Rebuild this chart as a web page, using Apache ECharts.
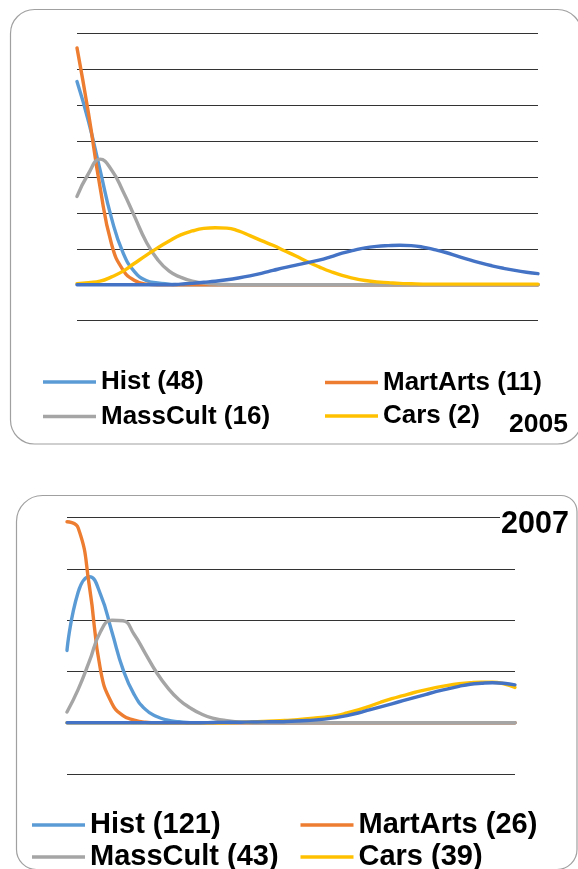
<!DOCTYPE html>
<html>
<head>
<meta charset="utf-8">
<script src="https://cdn.jsdelivr.net/npm/echarts@6/dist/echarts.min.js"></script>
<style>
	html, body { margin: 0; padding: 0; background: #fff; }
	#chart { width: 578px; height: 869px; }
</style>
</head>
<body>
<div id="chart"></div>
<script>
	// x positions (hidden axis), 41 sample points across each plot
	var steps = ['0', '1', '2', '3', '4', '5', '6', '7', '8', '9', '10', '11', '12', '13', '14', '15', '16', '17', '18', '19', '20',
		'21', '22', '23', '24', '25', '26', '27', '28', '29', '30', '31', '32', '33', '34', '35', '36', '37', '38', '39', '40'];

	// 2005 panel
	var names05 = ['Hist (48)', 'MartArts (11)', 'MassCult (16)', 'Cars (2)'];
	var hist05 = [5.66, 4.55, 3.2, 1.85, 0.89, 0.36, 0.12, 0.05, 0.02, 0, 0, 0, 0, 0, 0, 0, 0, 0, 0, 0, 0,
		0, 0, 0, 0, 0, 0, 0, 0, 0, 0, 0, 0, 0, 0, 0, 0, 0, 0, 0, 0];
	var mart05 = [6.6, 4.77, 2.72, 1.13, 0.41, 0.12, 0.02, 0, 0, 0, 0, 0, 0, 0, 0, 0, 0, 0, 0, 0, 0,
		0, 0, 0, 0, 0, 0, 0, 0, 0, 0, 0, 0, 0, 0, 0, 0, 0, 0, 0, 0];
	var mass05 = [2.46, 3.1, 3.5, 3.2, 2.6, 1.9, 1.2, 0.7, 0.38, 0.21, 0.1, 0.05, 0.02, 0.01, 0, 0, 0, 0, 0, 0, 0,
		0, 0, 0, 0, 0, 0, 0, 0, 0, 0, 0, 0, 0, 0, 0, 0, 0, 0, 0, 0];
	var cars05 = [0.03, 0.06, 0.1, 0.22, 0.38, 0.6, 0.82, 1.03, 1.22, 1.39, 1.5, 1.57, 1.59, 1.58, 1.5, 1.37, 1.23, 1.1, 0.95, 0.8, 0.64,
		0.5, 0.37, 0.26, 0.18, 0.12, 0.08, 0.06, 0.04, 0.03, 0.02, 0.02, 0.02, 0.02, 0.02, 0.02, 0.02, 0.02, 0.02, 0.02, 0.02];
	var extra05 = [0, 0, 0, 0, 0, 0, 0, 0, 0, 0.02, 0.04, 0.07, 0.1, 0.14, 0.19, 0.25, 0.32, 0.4, 0.48, 0.55, 0.62,
		0.69, 0.78, 0.88, 0.96, 1.03, 1.07, 1.09, 1.1, 1.09, 1.05, 0.98, 0.9, 0.8, 0.7, 0.61, 0.53, 0.46, 0.4, 0.35, 0.31];

	// 2007 panel
	var names07 = ['Hist (121)', 'MartArts (26)', 'MassCult (43)', 'Cars (39)'];
	var hist07 = [1.41, 2.55, 2.85, 2.5, 1.78, 1.04, 0.55, 0.26, 0.12, 0.05, 0.02, 0, 0, 0, 0, 0, 0, 0, 0, 0, 0,
		0, 0, 0, 0, 0, 0, 0, 0, 0, 0, 0, 0, 0, 0, 0, 0, 0, 0, 0, 0];
	var mart07 = [3.92, 3.8, 2.66, 1.02, 0.38, 0.14, 0.05, 0.01, 0, 0, 0, 0, 0, 0, 0, 0, 0, 0, 0, 0, 0,
		0, 0, 0, 0, 0, 0, 0, 0, 0, 0, 0, 0, 0, 0, 0, 0, 0, 0, 0, 0];
	var mass07 = [0.21, 0.65, 1.2, 1.78, 2.0, 1.99, 1.72, 1.35, 0.98, 0.68, 0.45, 0.29, 0.17, 0.09, 0.05, 0.02, 0.01, 0, 0, 0, 0,
		0, 0, 0, 0, 0, 0, 0, 0, 0, 0, 0, 0, 0, 0, 0, 0, 0, 0, 0, 0];
	var cars07 = [0, 0, 0, 0, 0, 0, 0, 0, 0, 0, 0, 0, 0, 0, 0, 0.005, 0.01, 0.02, 0.03, 0.04, 0.05,
		0.07, 0.09, 0.11, 0.14, 0.19, 0.25, 0.32, 0.4, 0.47, 0.53, 0.59, 0.64, 0.69, 0.73, 0.76, 0.78, 0.79, 0.79, 0.76, 0.69];
	var extra07 = [0, 0, 0, 0, 0, 0, 0, 0, 0, 0, 0, 0, 0, 0.005, 0.007, 0.01, 0.012, 0.015, 0.018, 0.02, 0.03,
		0.04, 0.05, 0.07, 0.1, 0.14, 0.19, 0.25, 0.31, 0.37, 0.43, 0.49, 0.55, 0.61, 0.66, 0.71, 0.75, 0.77, 0.78, 0.77, 0.74];

	var colors = ['#5B9BD5', '#ED7D31', '#A5A5A5', '#FFC000', '#4472C4'];
	var font = '"Liberation Sans", Arial, sans-serif';

	function line(name, data, color, idx) {
		return {
			name: name,
			type: 'line',
			xAxisIndex: idx,
			yAxisIndex: idx,
			data: data,
			smooth: 0.5,
			symbol: 'none',
			lineStyle: { width: 3.4, color: color, cap: 'round' },
			itemStyle: { color: color }
		}
	}

	// one legend per entry so the 2x2 columns line up
	function legendItem(name, left, top, size) {
		return {
			data: [name],
			left: left,
			top: top,
			padding: 0,
			itemWidth: 53,
			itemHeight: 3.5,
			icon: 'rect',
			selectedMode: false,
			textStyle: { fontFamily: font, fontWeight: 'bold', fontSize: size, lineHeight: size, color: '#000' }
		}
	}

	function xAx(idx) {
		return {
			type: 'category', gridIndex: idx, data: steps, boundaryGap: false,
			axisLine: { show: false }, axisTick: { show: false }, axisLabel: { show: false }
		}
	}

	function yAx(idx, max) {
		return {
			type: 'value', gridIndex: idx, min: -1, max: max, interval: 1,
			axisLine: { show: false }, axisTick: { show: false }, axisLabel: { show: false },
			splitLine: { show: true, lineStyle: { color: '#333', width: 1 } }
		}
	}

	var myChart = echarts.init(document.getElementById('chart'));
	myChart.setOption({
		animation: false,
		grid: [
			{ left: 77, right: 40, top: 33.5, height: 287.2 },
			{ left: 67, right: 63, top: 517.7, height: 256.3 }
		],
		xAxis: [xAx(0), xAx(1)],
		yAxis: [yAx(0, 7), yAx(1, 4)],
		legend: [
			legendItem(names05[0], 43, 369, 26),
			legendItem(names05[2], 43, 403.5, 26),
			legendItem(names05[1], 325, 369.5, 26),
			legendItem(names05[3], 325, 403, 26),
			legendItem(names07[0], 32, 810.5, 29),
			legendItem(names07[2], 32, 842.5, 29),
			legendItem(names07[1], 300.5, 810.5, 29),
			legendItem(names07[3], 300.5, 842.5, 29)
		],
		series: [
			line(names05[0], hist05, colors[0], 0),
			line(names05[1], mart05, colors[1], 0),
			line(names05[2], mass05, colors[2], 0),
			line(names05[3], cars05, colors[3], 0),
			line('Extra 2005', extra05, colors[4], 0),
			line(names07[0], hist07, colors[0], 1),
			line(names07[1], mart07, colors[1], 1),
			line(names07[2], mass07, colors[2], 1),
			line(names07[3], cars07, colors[3], 1),
			line('Extra 2007', extra07, colors[4], 1)
		],
		graphic: [
			// panel frames
			{ type: 'rect', z: 1, shape: { x: 10.5, y: 9.5, width: 571, height: 434.5, r: 24 },
				style: { fill: null, stroke: '#a0a0a0', lineWidth: 1.2 } },
			{ type: 'rect', z: 1, shape: { x: 16.5, y: 495.5, width: 560.5, height: 374, r: [26, 16, 20, 20] },
				style: { fill: null, stroke: '#a0a0a0', lineWidth: 1.2 } },
			// year labels
			{ type: 'text', z: 100, style: { text: '2005', x: 509, y: 425, font: 'bold 26.5px ' + font, fill: '#000', verticalAlign: 'middle' } },
			{ type: 'rect', z: 99, shape: { x: 500, y: 509, width: 72, height: 32 }, style: { fill: '#fff' } },
			{ type: 'text', z: 100, style: { text: '2007', x: 501, y: 525, font: 'bold 30.5px ' + font, fill: '#000', verticalAlign: 'middle' } }
		]
	});
</script>
</body>
</html>
